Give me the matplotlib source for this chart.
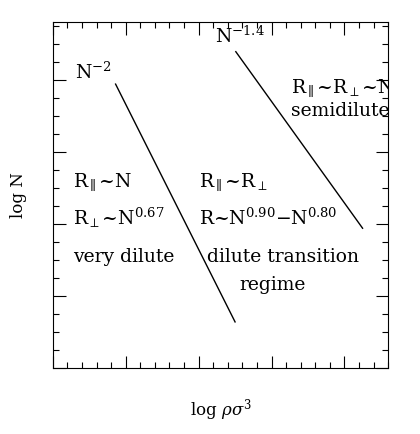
import matplotlib
matplotlib.use("Agg")
import matplotlib.pyplot as plt
from matplotlib.ticker import MultipleLocator, NullFormatter

plt.rcParams['font.family'] = 'DejaVu Serif'
plt.rcParams['mathtext.fontset'] = 'dejavuserif'

line1_x = [0.86, 2.50]
line1_y = [3.94, 0.64]
line2_x = [2.51, 4.25]
line2_y = [4.39, 1.94]

fig = plt.figure(figsize=(4.2, 4.34), dpi=100)
ax = fig.add_axes([0.126, 0.152, 0.798, 0.797])
ax.plot(line1_x, line1_y, color='black', lw=1)
ax.plot(line2_x, line2_y, color='black', lw=1)
ax.set_xlim(0, 4.6)
ax.set_ylim(0, 4.8)
ax.xaxis.set_major_locator(MultipleLocator(1))
ax.xaxis.set_minor_locator(MultipleLocator(0.2))
ax.yaxis.set_major_locator(MultipleLocator(1))
ax.yaxis.set_minor_locator(MultipleLocator(0.25))
ax.xaxis.set_major_formatter(NullFormatter())
ax.yaxis.set_major_formatter(NullFormatter())
ax.tick_params(which='both', direction='in', top=True, right=True, width=0.8)
ax.tick_params(which='major', length=9)
ax.tick_params(which='minor', length=4.5)

fs = 13.5
kw = dict(fontsize=fs, va='center', ha='left', clip_on=True)
ax.text(0.30, 4.10, r'N$^{-2}$', **kw)
ax.text(2.22, 4.60, r'N$^{-1.4}$', **kw)
ax.text(3.27, 3.90, r'R$_{\parallel}$~R$_{\perp}$~N$^{1/2}$', **kw)
ax.text(3.27, 3.56, 'semidilute', **kw)
ax.text(0.27, 2.58, r'R$_{\parallel}$~N', **kw)
ax.text(0.27, 2.08, r'R$_{\perp}$~N$^{0.67}$', **kw)
ax.text(0.27, 1.54, 'very dilute', **kw)
ax.text(2.01, 2.58, r'R$_{\parallel}$~R$_{\perp}$', **kw)
ax.text(2.01, 2.08, r'R~N$^{0.90}$$-$N$^{0.80}$', **kw)
ax.text(2.11, 1.54, 'dilute transition', **kw)
ax.text(3.01, 1.15, 'regime', fontsize=fs, va='center', ha='center')

fig.text(0.045, 0.55, 'log N', rotation=90, fontsize=12, va='center', ha='center')
fig.text(0.525, 0.055, r'log $\rho\sigma^3$', fontsize=12, va='center', ha='center')

fig.savefig('out.png', dpi=100)
